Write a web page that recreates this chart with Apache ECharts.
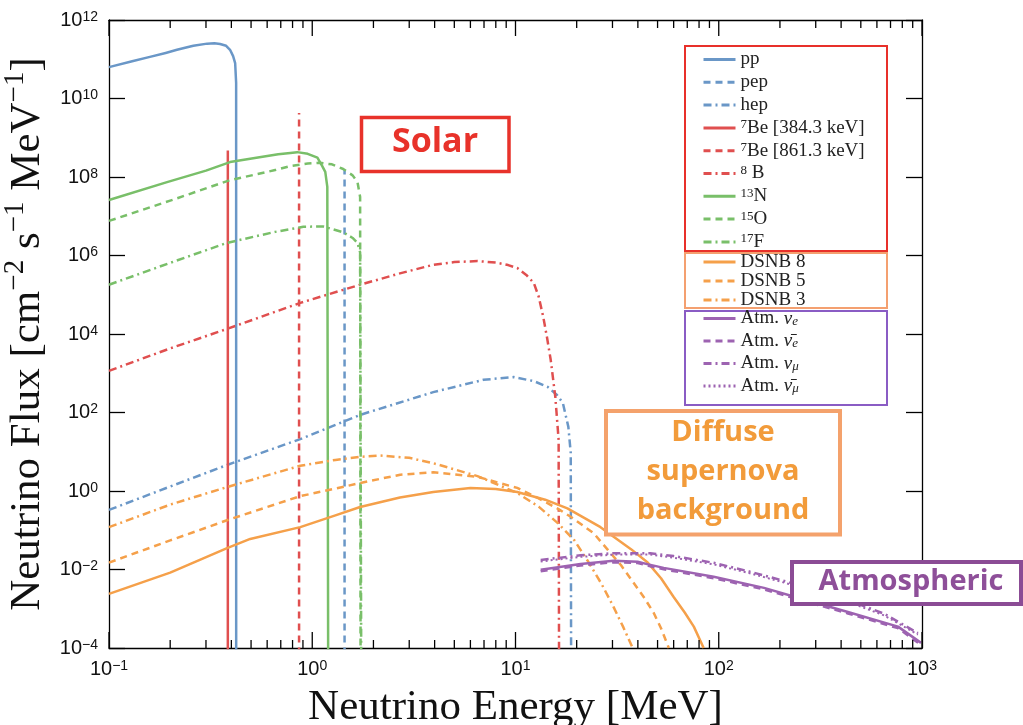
<!DOCTYPE html>
<html><head><meta charset="utf-8">
<script src="https://cdn.jsdelivr.net/npm/echarts@6.0.0/dist/echarts.min.js"></script>
<style>html,body{margin:0;padding:0;background:#fff}#c{width:1023px;height:725px}</style>
</head><body><div id="c"></div>
<script>
// ---- data (energy in MeV, flux in cm^-2 s^-1 MeV^-1) ----
const ppE = [0.1, 0.13, 0.159, 0.19, 0.216, 0.26, 0.304, 0.33, 0.352, 0.377, 0.394, 0.408, 0.4175, 0.4222, 0.4225];
const ppF = [6.3e10, 8.9e10, 1.15e11, 1.45e11, 1.74e11, 2.2e11, 2.5e11, 2.56e11, 2.45e11, 2.2e11, 1.74e11, 1.2e11, 8e10, 2.5e10, 1e-6];
const pepE = [1.442, 1.442];
const pepF = [1e-6, 1.5e8];
const hepE = [0.1, 0.2, 0.381, 0.873, 1.72, 3.94, 6.95, 9.8, 12.3, 14.4, 16.0, 17.1, 18.2, 18.7, 18.8];
const hepF = [0.33, 1.3, 4.6, 21, 87, 330, 680, 800, 630, 450, 280, 175, 43, 9.3, 1e-6];
const be384E = [0.3843, 0.3843];
const be384F = [1e-6, 4.7e8];
const be861E = [0.8613, 0.8613];
const be861F = [1e-6, 4.3e9];
const b8E = [0.1, 0.2, 0.381, 0.873, 1.72, 2.7, 3.94, 5.0, 6.5, 8.0, 9.2, 10.2, 11.3, 12.3, 13.0, 13.7, 14.3, 14.9, 15.7, 16.3, 16.4];
const b8F = [1.15e3, 4.3e3, 1.35e4, 6.2e4, 1.8e5, 3.5e5, 5.8e5, 6.8e5, 7.2e5, 6.6e5, 5.7e5, 4.8e5, 3.2e5, 2e5, 9e4, 2.7e4, 8e3, 2.2e3, 250, 20, 1e-6];
const n13E = [0.1, 0.193, 0.3, 0.394, 0.55, 0.68, 0.78, 0.843, 0.95, 1.06, 1.12, 1.159, 1.186, 1.199];
const n13F = [2.6e7, 7.4e7, 1.45e8, 2.4e8, 3.2e8, 3.8e8, 4.1e8, 4.3e8, 3.9e8, 3.1e8, 1.9e8, 1.35e8, 5.6e7, 1e-6];
const o15E = [0.1, 0.2, 0.394, 0.657, 0.78, 0.95, 1.09, 1.25, 1.42, 1.58, 1.67, 1.72, 1.73];
const o15F = [7.6e6, 2.5e7, 8.3e7, 1.5e8, 1.9e8, 2.2e8, 2.3e8, 2.1e8, 1.6e8, 1.1e8, 7.4e7, 3.1e7, 1e-6];
const f17E = [0.1, 0.2, 0.381, 0.657, 0.904, 1.13, 1.42, 1.58, 1.67, 1.72, 1.745];
const f17F = [1.8e5, 6.5e5, 2.1e6, 4e6, 5.4e6, 5.5e6, 3.9e6, 2.8e6, 2.1e6, 1.2e6, 1e-6];
const dsnb8E = [0.1, 0.2, 0.381, 0.495, 0.873, 1.3, 1.72, 2.7, 3.94, 6.0, 8.0, 10.2, 14.0, 18.0, 22.0, 26.2, 30.4, 37.0, 44.7, 52.0, 60, 68.0, 75.4, 84.3];
const dsnb8F = [2.4e-3, 8.3e-3, 0.035, 0.06, 0.12, 0.24, 0.39, 0.68, 0.94, 1.2, 1.12, 0.94, 0.6, 0.36, 0.2, 0.12, 0.068, 0.033, 0.015, 6e-3, 2e-3, 8e-4, 3.5e-4, 1e-4];
const dsnb5E = [0.1, 0.2, 0.381, 0.873, 1.3, 1.72, 2.71, 3.94, 6.5, 10.2, 13.0, 16.2, 18.7, 24.2, 28.4, 33.0, 38.1, 43.0, 47.9, 52.0, 56.8];
const dsnb5F = [0.015, 0.055, 0.18, 0.74, 1.15, 1.6, 2.6, 3.0, 2.3, 1.2, 0.65, 0.35, 0.22, 0.085, 0.032, 0.013, 4.6e-3, 1.9e-3, 7.8e-4, 3.2e-4, 1e-4];
const dsnb3E = [0.1, 0.2, 0.381, 0.873, 1.3, 1.72, 2.16, 3.0, 3.94, 6.5, 10.2, 13.0, 16.2, 19.5, 22.6, 26.5, 30.4, 34.0, 37.7];
const dsnb3F = [0.12, 0.45, 1.26, 4.4, 6.2, 7.4, 8.0, 7.0, 5.1, 2.4, 0.89, 0.4, 0.15, 0.055, 0.017, 4.3e-3, 1.1e-3, 3.3e-4, 1e-4];
const nueE = [13.3, 20.9, 30.4, 39.9, 45.0, 53.6, 94.4, 167, 245, 432, 762, 989];
const nueF = [9.8e-3, 0.0138, 0.0166, 0.0158, 0.0135, 0.011, 6.5e-3, 3.4e-3, 1.9e-3, 8.3e-4, 3.5e-4, 1.35e-4];
const nuebarE = [13.3, 20.9, 30.4, 39.9, 45.0, 53.6, 94.4, 167, 245, 432, 762, 989];
const nuebarF = [9.0e-3, 0.0127, 0.0153, 0.0146, 0.0125, 0.0101, 6.0e-3, 3.1e-3, 1.75e-3, 7.6e-4, 3.2e-4, 1.2e-4];
const numuE = [13.3, 20.9, 30.4, 46, 60, 94.4, 140, 202, 300, 432, 650, 955];
const numuF = [0.0175, 0.023, 0.026, 0.026, 0.022, 0.0148, 9e-3, 5.4e-3, 3e-3, 1.66e-3, 7.5e-4, 2.4e-4];
const numubarE = [13.3, 20.9, 30.4, 46, 60, 94.4, 140, 202, 300, 432, 650, 955];
const numubarF = [0.016, 0.021, 0.024, 0.024, 0.02, 0.0135, 8.2e-3, 4.9e-3, 2.7e-3, 1.5e-3, 6.8e-4, 2.2e-4];

// ---- ticks ----
const xMajorTicks = [0.1, 1, 10, 100, 1000];
const xMinorTicks = [0.2,0.3,0.4,0.5,0.6,0.7,0.8,0.9, 2,3,4,5,6,7,8,9, 20,30,40,50,60,70,80,90, 200,300,400,500,600,700,800,900];
const yMajorTicks = [1e-4, 1e-2, 1, 1e2, 1e4, 1e6, 1e8, 1e10, 1e12];

// ---- series names & labels ----
const redNames = ['pp', 'pep', 'hep', '7Be [384.3 keV]', '7Be [861.3 keV]', '8 B', '13N', '15O', '17F'];
const orangeNames = ['DSNB 8', 'DSNB 5', 'DSNB 3'];
const purpleNames = ['Atm. νe', 'Atm. ν̄e', 'Atm. νμ', 'Atm. ν̄μ'];
const legendRich = {
  'pp': '{t|pp}', 'pep': '{t|pep}', 'hep': '{t|hep}',
  '7Be [384.3 keV]': '{s|7}{t|Be [384.3 keV]}',
  '7Be [861.3 keV]': '{s|7}{t|Be [861.3 keV]}',
  '8 B': '{s|8}{t| B}', '13N': '{s|13}{t|N}', '15O': '{s|15}{t|O}', '17F': '{s|17}{t|F}',
  'DSNB 8': '{t|DSNB 8}', 'DSNB 5': '{t|DSNB 5}', 'DSNB 3': '{t|DSNB 3}',
  'Atm. νe': '{t|Atm. }{i|ν}{u|e}', 'Atm. ν̄e': '{t|Atm. }{i|ν̄}{u|e}',
  'Atm. νμ': '{t|Atm. }{i|ν}{u|μ}', 'Atm. ν̄μ': '{t|Atm. }{i|ν̄}{u|μ}'
};

const BLUE = '#6a97c7', RED = '#e04f4f', GREEN = '#79bf69', ORANGE = '#f5a04a', PURPLE = '#9d63b1';
const SOLID = 'solid', DASH = [7, 5], DASHDOT = [8, 4, 2, 4], DOT = [2, 3];

const defs = [
  ['pp', ppE, ppF, BLUE, SOLID], ['pep', pepE, pepF, BLUE, DASH], ['hep', hepE, hepF, BLUE, DASHDOT],
  ['7Be [384.3 keV]', be384E, be384F, RED, SOLID], ['7Be [861.3 keV]', be861E, be861F, RED, DASH],
  ['8 B', b8E, b8F, RED, DASHDOT],
  ['13N', n13E, n13F, GREEN, SOLID], ['15O', o15E, o15F, GREEN, DASH], ['17F', f17E, f17F, GREEN, DASHDOT],
  ['DSNB 8', dsnb8E, dsnb8F, ORANGE, SOLID], ['DSNB 5', dsnb5E, dsnb5F, ORANGE, DASH], ['DSNB 3', dsnb3E, dsnb3F, ORANGE, DASHDOT],
  ['Atm. νe', nueE, nueF, PURPLE, SOLID], ['Atm. ν̄e', nuebarE, nuebarF, PURPLE, DASH],
  ['Atm. νμ', numuE, numuF, PURPLE, DASHDOT], ['Atm. ν̄μ', numubarE, numubarF, PURPLE, DOT]
];

const series = defs.map(d => ({
  name: d[0], type: 'line', xAxisIndex: 0, yAxisIndex: 0,
  data: d[1].map((e, i) => [e, d[2][i]]),
  symbol: 'none', showSymbol: false, clip: true, smooth: false,
  lineStyle: { color: d[3], width: d[4] === DOT ? 2 : 2.5, type: d[4], join: 'round' },
  itemStyle: { color: d[3] },
  emphasis: { disabled: true }
}));

const SERIF = '"Liberation Serif", "Times New Roman", serif';
const SANS = '"Liberation Sans", Arial, sans-serif';

function expLabel(v) {
  const n = Math.round(Math.log10(v));
  return '{b|10}{s|' + (n < 0 ? '−' + (-n) : n) + '}';
}
const tickRich = {
  b: { fontFamily: SANS, fontSize: 20, lineHeight: 20, padding: [3, 0, 0, 0], verticalAlign: 'bottom', color: '#111' },
  s: { fontFamily: SANS, fontSize: 14, lineHeight: 14, verticalAlign: 'top', color: '#111' }
};

const GRID = { left: 109, right: 101, top: 20, bottom: 77 };
const lineS = { color: '#000', width: 1.3 };
const logX = { type: 'log', min: 0.1, max: 1000, interval: 1, splitLine: { show: false } };
const logY = { type: 'log', min: 1e-4, max: 1e12, interval: 2, splitLine: { show: false }, minorTick: { show: false } };

const legendCommon = {
  orient: 'vertical', left: 702, itemWidth: 32, itemHeight: 12, padding: 0,
  selectedMode: false,
  lineStyle: { width: 3 },
  itemStyle: { opacity: 0 },
  formatter: n => legendRich[n]
};

const option = {
  animation: false,
  backgroundColor: '#fff',
  grid: Object.assign({ outerBoundsMode: 'none' }, GRID),
  xAxis: [
    Object.assign({}, logX, {
      position: 'bottom',
      axisLine: { show: true, onZero: false, lineStyle: lineS },
      axisTick: { show: false },
      axisLabel: { show: true, margin: 11, formatter: expLabel, rich: tickRich, customValues: xMajorTicks },
      name: 'Neutrino Energy [MeV]', nameLocation: 'middle', nameGap: 27,
      nameTextStyle: { fontFamily: SERIF, fontSize: 43, lineHeight: 48, color: '#111' }
    }),
    Object.assign({}, logX, {
      position: 'top', axisLine: { show: true, onZero: false, lineStyle: lineS },
      axisTick: { show: false },
      axisLabel: { show: false }
    })
  ],
  yAxis: [
    Object.assign({}, logY, {
      position: 'left',
      axisLine: { show: true, onZero: false, lineStyle: lineS },
      axisTick: { show: true, inside: true, length: 16, lineStyle: lineS },
      axisLabel: { show: true, margin: 11, formatter: expLabel, rich: tickRich, customValues: yMajorTicks },
      name: '{b|Neutrino Flux [cm}{s|−2}{b| s}{s|−1}{b| MeV}{s|−1}{b|]}',
      nameLocation: 'middle', nameGap: 50,
      nameTextStyle: {
        fontFamily: SERIF, fontSize: 43, lineHeight: 48, color: '#111',
        rich: {
          b: { fontFamily: SERIF, fontSize: 43, lineHeight: 48, verticalAlign: 'bottom', color: '#111' },
          s: { fontFamily: SERIF, fontSize: 29, lineHeight: 28, verticalAlign: 'top', color: '#111' }
        }
      }
    }),
    Object.assign({}, logY, {
      position: 'right',
      axisLine: { show: true, onZero: false, lineStyle: lineS },
      axisTick: { show: true, inside: true, length: 16, lineStyle: lineS },
      axisLabel: { show: false }
    })
  ],
  legend: [
    Object.assign({}, legendCommon, {
      data: redNames, top: 47, itemGap: 0.8,
      textStyle: {
        fontFamily: SERIF, fontSize: 19, color: '#222',
        rich: {
          t: { fontFamily: SERIF, fontSize: 19, lineHeight: 19, padding: [3, 0, 0, 0], verticalAlign: 'bottom', color: '#222' },
          s: { fontFamily: SERIF, fontSize: 13, lineHeight: 13, verticalAlign: 'top', color: '#222' }
        }
      }
    }),
    Object.assign({}, legendCommon, {
      data: orangeNames, top: 252.5, itemGap: 0,
      textStyle: {
        fontFamily: SERIF, fontSize: 19, color: '#222',
        rich: { t: { fontFamily: SERIF, fontSize: 19, lineHeight: 19, color: '#222' } }
      }
    }),
    Object.assign({}, legendCommon, {
      data: purpleNames, top: 309, itemGap: 0.5,
      textStyle: {
        fontFamily: SERIF, fontSize: 19, color: '#222',
        rich: {
          t: { fontFamily: SERIF, fontSize: 19, lineHeight: 19, padding: [0, 0, 3, 0], verticalAlign: 'top', color: '#222' },
          i: { fontFamily: SERIF, fontStyle: 'italic', fontSize: 19, lineHeight: 19, padding: [0, 0, 3, 0], verticalAlign: 'top', color: '#222' },
          u: { fontFamily: SERIF, fontStyle: 'italic', fontSize: 13, lineHeight: 13, verticalAlign: 'bottom', color: '#222' }
        }
      }
    })
  ],
  graphic: { elements: [
    { id: 'lgR', type: 'rect', z: 1, silent: true, shape: { x: 685, y: 46, width: 202, height: 205 }, style: { fill: 'none', stroke: '#e8302a', lineWidth: 2 } },
    { id: 'lgO', type: 'rect', z: 1, silent: true, shape: { x: 685, y: 253, width: 202, height: 55 }, style: { fill: 'none', stroke: '#f4a070', lineWidth: 2 } },
    { id: 'lgP', type: 'rect', z: 1, silent: true, shape: { x: 685, y: 311, width: 202, height: 94 }, style: { fill: 'none', stroke: '#8a5cc4', lineWidth: 2 } },

    { id: 'solB', type: 'rect', z: 100, silent: true, shape: { x: 361.5, y: 117.5, width: 147.5, height: 54 }, style: { fill: '#fff', stroke: '#e8322a', lineWidth: 3.5 } },
    { id: 'solT', type: 'text', z: 101, silent: true, x: 435, y: 142, style: { text: 'Solar', fill: '#e8322a', font: 'bold 34px "Open Sans", Lato, sans-serif', align: 'center', verticalAlign: 'middle' } },

    { id: 'dsB', type: 'rect', z: 100, silent: true, shape: { x: 606, y: 411, width: 234, height: 123.5 }, style: { fill: '#fff', stroke: '#f4a26c', lineWidth: 4 } },
    { id: 'dsT', type: 'text', z: 101, silent: true, x: 723, y: 472, style: { text: 'Diffuse\nsupernova\nbackground', fill: '#f29b3a', font: 'bold 29px "Open Sans", Lato, sans-serif', lineHeight: 39, align: 'center', verticalAlign: 'middle' } },

    { id: 'atB', type: 'rect', z: 100, silent: true, shape: { x: 792, y: 562, width: 229, height: 42 }, style: { fill: '#fff', stroke: '#8b4c95', lineWidth: 4 } },
    { id: 'atT', type: 'text', z: 101, silent: true, x: 911, y: 582, style: { text: 'Atmospheric', fill: '#8e4f99', font: 'bold 29px "Open Sans", Lato, sans-serif', align: 'center', verticalAlign: 'middle' } }
  ] },
  series: series
};

const dom = document.getElementById('c');
const W = 1023, H = 725;
const plotL = GRID.left, plotR = W - GRID.right, plotT = GRID.top, plotB = H - GRID.bottom;

// Tick positions from ECharts' own log x scale (read after a layout pass); grid geometry as a fallback.
const geomX = v => plotL + (Math.log10(v) - Math.log10(0.1)) / (Math.log10(1000) - Math.log10(0.1)) * (plotR - plotL);
let xPix = geomX;
let yBot = plotB, yTop = plotT;
try {
  const probe = echarts.init(dom, null, { renderer: 'canvas' });
  probe.setOption(option);
  const read = v => {
    try { const p = probe.convertToPixel({ xAxisIndex: 0, yAxisIndex: 0 }, [v, 1]); if (Array.isArray(p) && isFinite(p[0])) return p[0]; } catch (e) {}
    try { const ax = probe.getModel().getComponent('xAxis', 0).axis; const q = ax.toGlobalCoord(ax.dataToCoord(v)); if (isFinite(q)) return q; } catch (e) {}
    return null;
  };
  const cache = {};
  let ok = true;
  xMajorTicks.concat(xMinorTicks).forEach(v => {
    const q = read(v);
    if (q == null || Math.abs(q - geomX(v)) > 3) ok = false;
    cache[v] = q;
  });
  if (ok) xPix = v => cache[v];
  probe.dispose();
} catch (e) { /* geometry fallback */ }

// x-axis tick marks as thin filled bars (major + minor, bottom and top edges, pointing inwards)
const TW = 1.3;
function addTicks(vals, len, pfx) {
  vals.forEach((v, i) => {
    const px = xPix(v);
    option.graphic.elements.push({ id: pfx + 'b' + i, type: 'rect', z: 60, silent: true,
      shape: { x: px - TW / 2, y: yBot - len, width: TW, height: len }, style: { fill: '#000', stroke: null } });
    option.graphic.elements.push({ id: pfx + 't' + i, type: 'rect', z: 60, silent: true,
      shape: { x: px - TW / 2, y: yTop, width: TW, height: len }, style: { fill: '#000', stroke: null } });
  });
}
addTicks(xMajorTicks, 16, 'M');
addTicks(xMinorTicks, 8, 'm');

const chart = echarts.init(dom, null, { renderer: 'canvas' });
chart.setOption(option);
</script>
</body></html>
